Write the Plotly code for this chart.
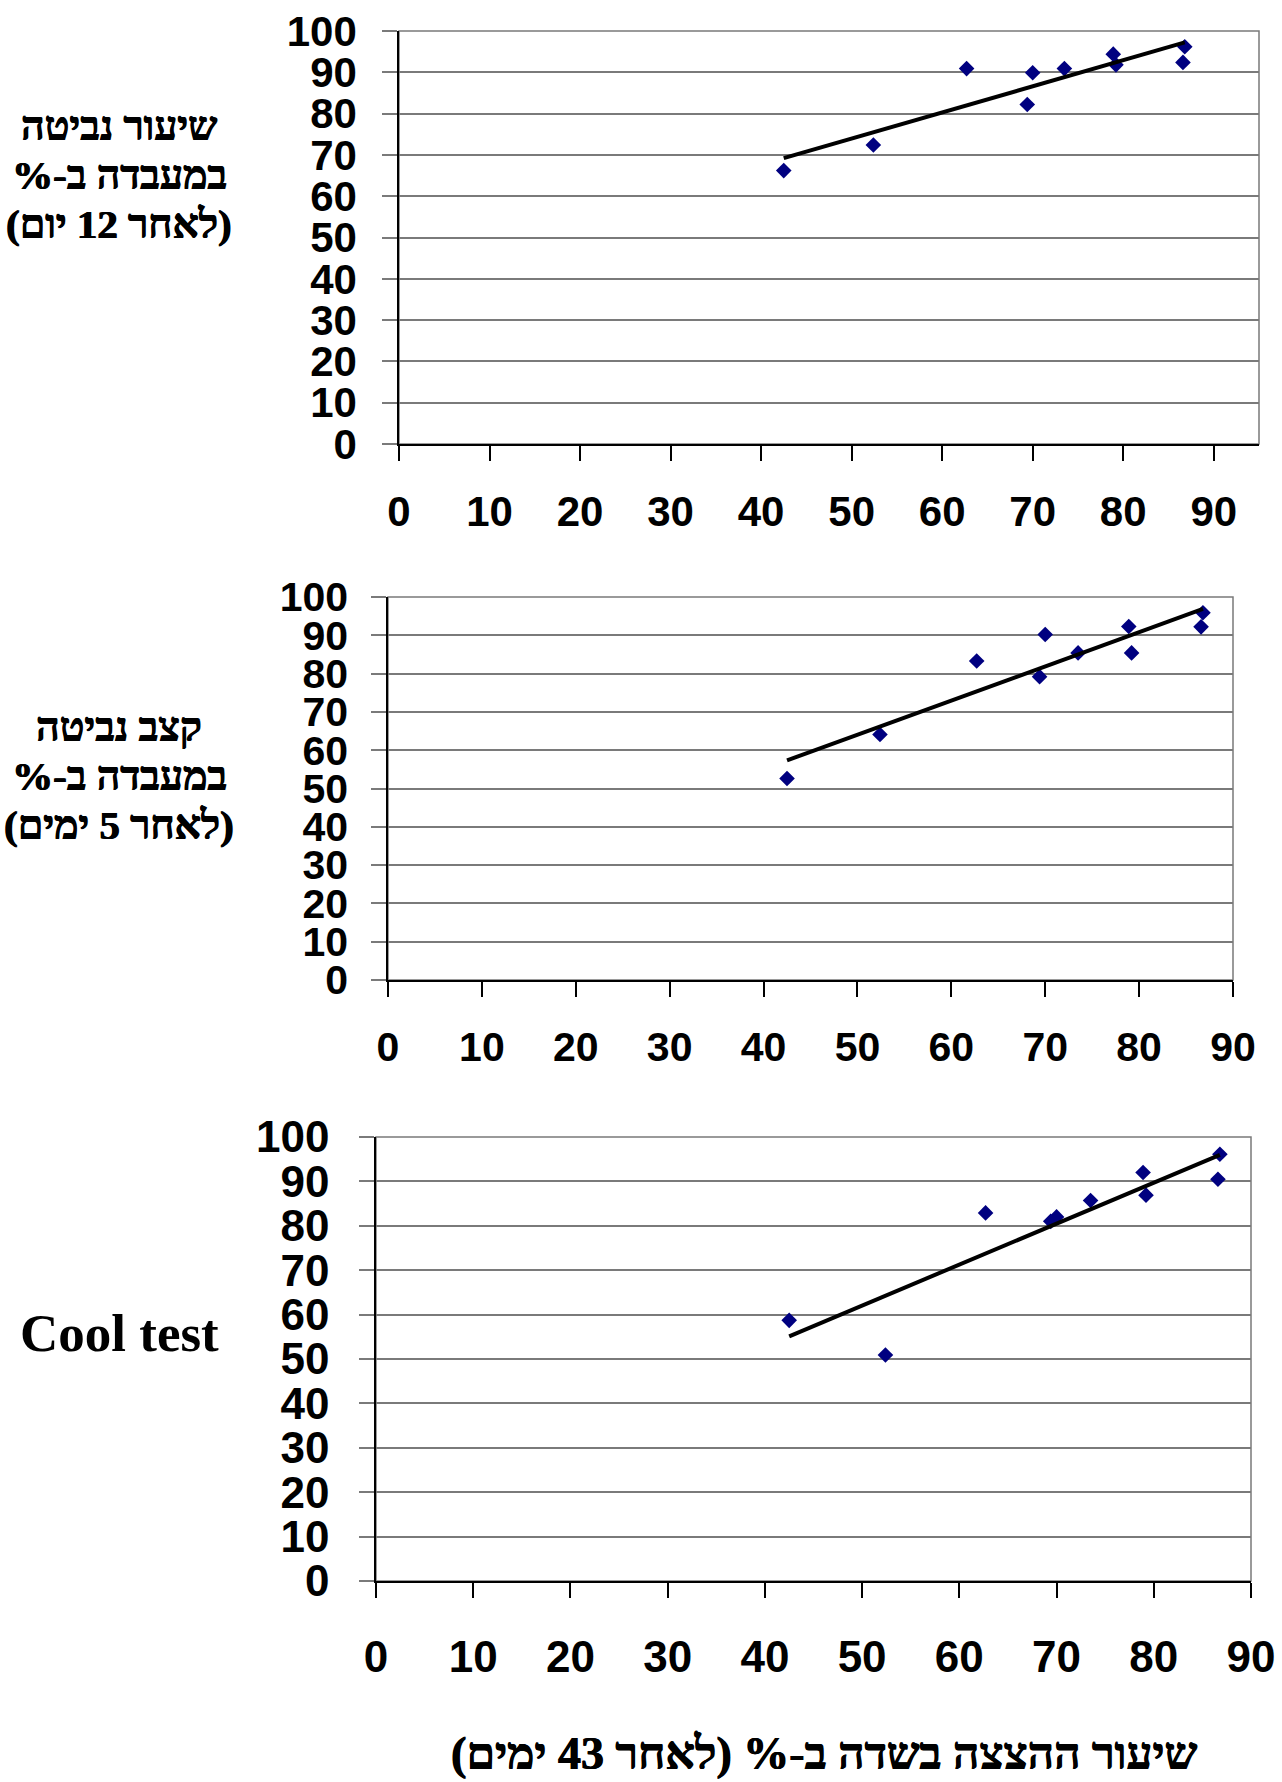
import numpy as np
import plotly.graph_objects as go

# Field emergence (%) after 43 days - shared x values for all three panels
field_emergence = [42.5, 52.4, 62.7, 69.4, 70.0, 73.5, 78.9, 79.2, 86.8, 86.6]

# Lab germination after 12 days (%)
lab_germ_12d = [66.2, 72.4, 90.9, 82.2, 89.9, 90.9, 94.4, 91.8, 96.2, 92.4]
# Lab germination rate after 5 days (%)
lab_rate_5d = [52.6, 64.1, 83.3, 79.2, 90.2, 85.4, 92.3, 85.4, 95.9, 92.2]
# Cool test (%)
cool_test = [58.7, 50.9, 82.9, 81.0, 82.0, 85.7, 92.0, 86.9, 96.1, 90.5]

x_ticks = [0, 10, 20, 30, 40, 50, 60, 70, 80, 90]
y_ticks = [0, 10, 20, 30, 40, 50, 60, 70, 80, 90, 100]

RLM = "\u200f"
label_12d = ["שיעור נביטה", "במעבדה ב-%", "(לאחר 12 יום)"]
label_5d = ["קצב נביטה", "במעבדה ב-%", "(לאחר 5 ימים)"]
label_cool = "Cool test"
x_title = "שיעור ההצצה בשדה ב-% (לאחר 43 ימים)"

W, H = 1282, 1782

# plot-area boxes in pixels: (left, right, top, bottom), x range max
panels = [
    dict(box=(399, 1259, 31, 444), xmax=95, y=lab_germ_12d, tick=42, xs=15, ys=17),
    dict(box=(388, 1233, 597, 980), xmax=90, y=lab_rate_5d, tick=41, xs=15, ys=15),
    dict(box=(376, 1251, 1137, 1581), xmax=90, y=cool_test, tick=44, xs=21, ys=21),
]

NAVY = "#000080"
GRID = "#7a7a7a"
tick_family = "Liberation Sans, Arial, sans-serif"
heb_family = "Liberation Serif, Times New Roman, serif"
heavy = "0.7px 0 0 #000, -0.4px 0 0 #000"

fig = go.Figure()
layout = dict(
    template="none",
    width=W, height=H, margin=dict(l=0, r=0, t=0, b=0, pad=0, autoexpand=False),
    paper_bgcolor="white", plot_bgcolor="white", showlegend=False,
)
shapes = []

for i, p in enumerate(panels, start=1):
    l, r, t, b = p["box"]
    xa = "xaxis" if i == 1 else f"xaxis{i}"
    ya = "yaxis" if i == 1 else f"yaxis{i}"
    xr = "x" if i == 1 else f"x{i}"
    yr = "y" if i == 1 else f"y{i}"

    fig.add_trace(go.Scatter(
        x=field_emergence, y=p["y"], mode="markers", xaxis=xr, yaxis=yr,
        marker=dict(symbol="diamond", size=12, color=NAVY, line=dict(width=0)),
        cliponaxis=False,
    ))

    # linear trendline over the data span
    slope, intercept = np.polyfit(field_emergence, p["y"], 1)
    xs = np.array([min(field_emergence), max(field_emergence)])
    fig.add_trace(go.Scatter(
        x=xs, y=slope * xs + intercept, mode="lines", xaxis=xr, yaxis=yr,
        line=dict(color="black", width=4), cliponaxis=False,
    ))

    tf = dict(family=tick_family, size=p["tick"], color="black", weight="bold")
    layout[xa] = dict(
        domain=[l / W, r / W], anchor=yr, range=[0, p["xmax"]],
        tickvals=x_ticks, ticks="outside", ticklen=15, tickwidth=1.5,
        tickcolor="black", showgrid=False, zeroline=False,
        showline=True, linecolor="black", linewidth=2,
        tickfont=tf, ticklabelstandoff=p["xs"], automargin=False,
    )
    layout[ya] = dict(
        domain=[1 - b / H, 1 - t / H], anchor=xr, range=[0, 100],
        tickvals=y_ticks, ticks="outside", ticklen=15, tickwidth=1.5,
        tickcolor=GRID, showgrid=True, gridcolor=GRID, gridwidth=1.5,
        zeroline=False, showline=True, linecolor="black", linewidth=1.5,
        tickfont=tf, ticklabelstandoff=p["ys"], automargin=False,
    )
    shapes.append(dict(
        type="rect", xref=f"{xr} domain", yref=f"{yr} domain",
        x0=0, x1=1, y0=0, y1=1, line=dict(color=GRID, width=1.5),
        layer="below",
    ))

annotations = []


def side_text(lines, cx, cys, size):
    for s, cy in zip(lines, cys):
        annotations.append(dict(
            text=RLM + s + RLM, xref="paper", yref="paper",
            x=cx / W, y=1 - cy / H, xanchor="center", yanchor="middle",
            showarrow=False,
            font=dict(family=heb_family, size=size, color="black",
                      weight="bold", shadow=heavy),
        ))


side_text(label_12d, 119, [126, 175, 224], 41)
side_text(label_5d, 119, [727, 776, 825], 41)
annotations.append(dict(
    text=label_cool, xref="paper", yref="paper", x=119 / W, y=1 - 1333 / H,
    xanchor="center", yanchor="middle", showarrow=False,
    font=dict(family=heb_family, size=53, color="black", weight="bold"),
))
annotations.append(dict(
    text=RLM + x_title + RLM, xref="paper", yref="paper", x=824 / W, y=1 - 1753 / H,
    xanchor="center", yanchor="middle", showarrow=False,
    font=dict(family=heb_family, size=46, color="black", weight="bold", shadow=heavy),
))

layout["shapes"] = shapes
layout["annotations"] = annotations
fig.update_layout(**layout)
fig.write_html("out.html")
